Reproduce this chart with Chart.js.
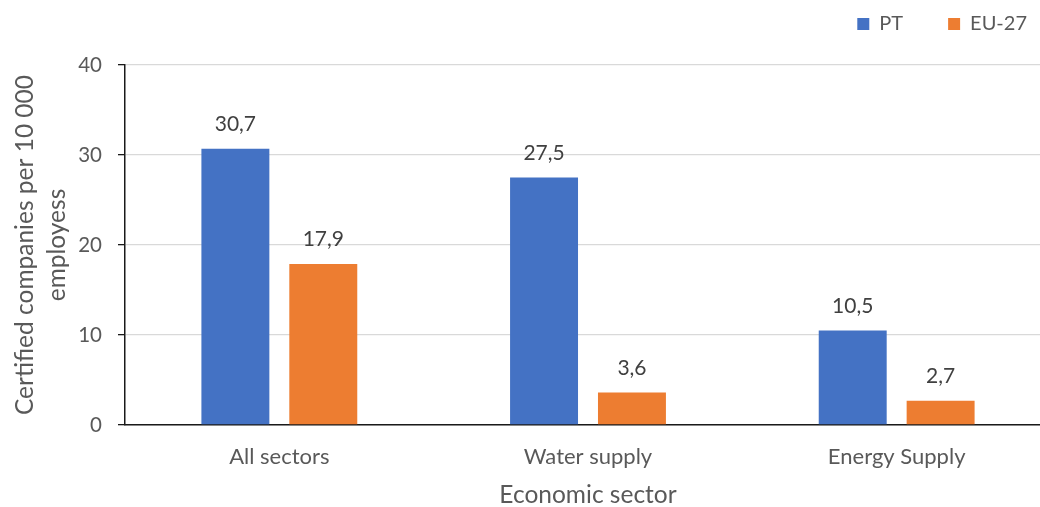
<!DOCTYPE html>
<html>
<head>
<meta charset="utf-8">
<title>Certified companies per 10 000 employees</title>
<script src="https://cdn.jsdelivr.net/npm/chart.js@4.4.1/dist/chart.umd.min.js"></script>
<style>
  html, body { margin: 0; padding: 0; background: #ffffff; overflow: hidden; }
  #wrap { width: 1051px; height: 507px; position: relative; }
</style>
</head>
<body>
<div id="wrap"><canvas id="chart" width="1051" height="507"></canvas></div>
<script>
// Sectors and values (certified companies per 10 000 employees)
const categories = ['All sectors', 'Water supply', 'Energy Supply'];
const ptValues = [30.7, 27.5, 10.5];
const euValues = [17.9, 3.6, 2.7];
const yTickValues = [0, 10, 20, 30, 40];

const FONT = 'Lato, "Open Sans", sans-serif';

// Writes each bar's value above it, with a decimal comma
const valueLabels = {
  id: 'valueLabels',
  afterDatasetsDraw(chart) {
    const ctx = chart.ctx;
    ctx.save();
    ctx.font = '21px ' + FONT;
    ctx.fillStyle = '#404040';
    ctx.textAlign = 'center';
    ctx.textBaseline = 'alphabetic';
    chart.data.datasets.forEach((ds, i) => {
      chart.getDatasetMeta(i).data.forEach((bar, j) => {
        ctx.fillText(ds.data[j].toFixed(1).replace('.', ','), bar.x, bar.y - 18);
      });
    });
    ctx.restore();
  }
};

// Places the legend row in the top-right corner
const legendPlacement = {
  id: 'legendPlacement',
  afterLayout(chart) {
    const lg = chart.legend;
    if (!lg) return;
    const pad = lg.options.labels.padding;
    const dx = (1027 + pad) - lg.right;
    const dy = 14 - (lg.top + pad);
    lg.left += dx; lg.right += dx;
    lg.top += dy; lg.bottom += dy;
  }
};

new Chart(document.getElementById('chart'), {
  type: 'bar',
  data: {
    labels: categories,
    datasets: [
      { label: 'PT', data: ptValues, backgroundColor: '#4472C4', borderWidth: 0 },
      { label: 'EU-27', data: euValues, backgroundColor: '#ED7D31', borderWidth: 0 }
    ]
  },
  options: {
    responsive: false,
    animation: false,
    devicePixelRatio: 1,
    layout: { padding: 0 },
    datasets: {
      bar: { categoryPercentage: 0.5696, barPercentage: 0.773 }
    },
    plugins: {
      tooltip: { enabled: false },
      legend: {
        position: 'top',
        align: 'end',
        maxHeight: 65,
        labels: {
          boxWidth: 12,
          boxHeight: 12,
          padding: 45,
          color: '#595959',
          font: { family: FONT, size: 20 }
        }
      }
    },
    scales: {
      x: {
        grid: { display: false, drawTicks: false },
        border: { display: true, color: '#1a1a1a', width: 1.5 },
        ticks: {
          color: '#595959',
          font: { family: FONT, size: 22 },
          padding: 19
        },
        title: {
          display: true,
          text: 'Economic sector',
          color: '#595959',
          font: { family: FONT, size: 24.5, lineHeight: 1.0 },
          padding: { top: 0, bottom: 0 }
        },
        afterFit(scale) { scale.height = 82; }
      },
      y: {
        min: 0,
        max: 40,
        afterBuildTicks(scale) { scale.ticks = yTickValues.map(v => ({ value: v })); },
        grid: {
          color: '#d9d9d9',
          lineWidth: 1.3,
          tickColor: '#1a1a1a',
          tickLength: 7
        },
        border: { display: true, color: '#1a1a1a', width: 1.5 },
        ticks: {
          color: '#595959',
          font: { family: FONT, size: 20.5 },
          padding: 16
        },
        title: {
          display: true,
          text: ['Certified companies per 10 000', 'employess'],
          color: '#595959',
          font: { family: FONT, size: 24.5, lineHeight: 1.3 },
          padding: { top: 9, bottom: 0 }
        },
        afterFit(scale) { scale.width = 125; }
      }
    }
  },
  plugins: [valueLabels, legendPlacement]
});
</script>
</body>
</html>
